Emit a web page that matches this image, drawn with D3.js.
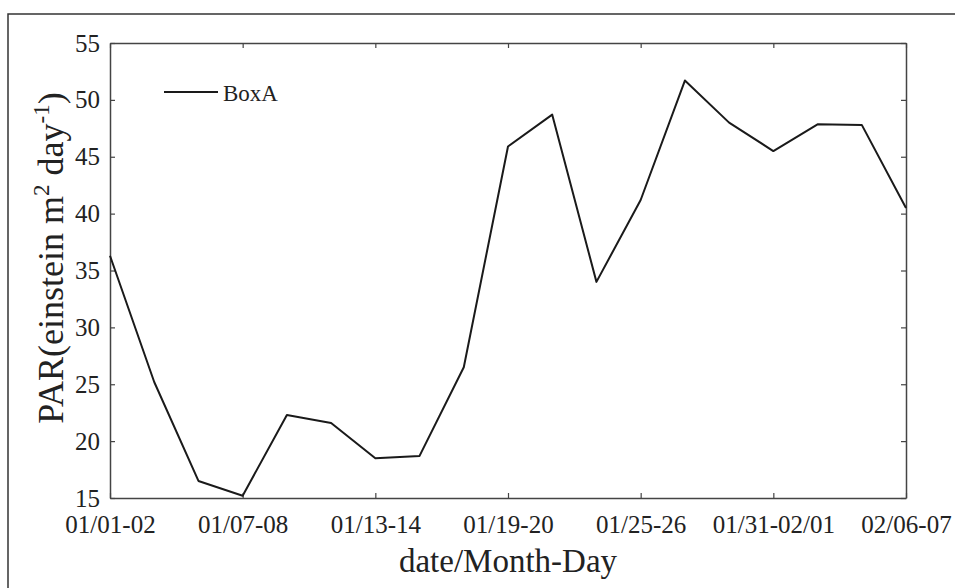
<!DOCTYPE html>
<html>
<head>
<meta charset="utf-8">
<script src="https://cdn.jsdelivr.net/npm/d3@7.9.0/dist/d3.min.js"></script>
<style>
  body { margin: 0; background: #fff; }
  svg text { font-family: "Liberation Serif", "DejaVu Serif", serif !important; fill: #222; }
</style>
</head>
<body>
<svg width="955" height="588"></svg>
<script>
// PAR values every two days, BoxA
const dates = ['01/01-02','01/03-04','01/05-06','01/07-08','01/09-10','01/11-12','01/13-14',
  '01/15-16','01/17-18','01/19-20','01/21-22','01/23-24','01/25-26','01/27-28','01/29-30',
  '01/31-02/01','02/02-03','02/04-05','02/06-07'];
const parBoxA = [36.3, 25.2, 16.5, 15.2, 22.3, 21.6, 18.5, 18.7, 26.5, 45.9, 48.7, 34.0,
  41.2, 51.7, 48.0, 45.5, 47.85, 47.8, 40.5];
const xTickLabels = ['01/01-02','01/07-08','01/13-14','01/19-20','01/25-26','01/31-02/01','02/06-07'];
const yTicks = [15, 20, 25, 30, 35, 40, 45, 50, 55];

const svg = d3.select('svg');
const plotLeft = 110, plotRight = 906, plotTop = 43, plotBottom = 498;
const serif = '"Liberation Serif", serif';

// outer frame (only top and left edges are visible)
svg.append('path')
  .attr('d', 'M8,588V14H955')
  .attr('fill', 'none').attr('stroke', '#333').attr('stroke-width', 1.5);

let x = d3.scalePoint().domain(dates).range([plotLeft, plotRight]);
let y = d3.scaleLinear().domain([15, 55]).range([plotBottom, plotTop]);

const axisColor = '#444';

function styleAxis(g) {
  g.attr('font-family', serif).style('font-family', serif);
  g.selectAll('.domain').attr('stroke', axisColor).attr('stroke-width', 1.5);
  g.selectAll('.tick line').attr('stroke', axisColor).attr('stroke-width', 1.2);
  g.selectAll('.tick text').attr('font-size', 25).attr('fill', '#222')
    .style('font-family', serif);
}

svg.append('g').attr('transform', `translate(0,${plotBottom})`)
  .call(d3.axisBottom(x).tickValues(xTickLabels).tickSize(-5).tickSizeOuter(0).tickPadding(17))
  .call(styleAxis);
svg.append('g').attr('transform', `translate(0,${plotTop})`)
  .call(d3.axisTop(x).tickValues(xTickLabels).tickSize(-5).tickSizeOuter(0).tickFormat(''))
  .call(styleAxis);
svg.append('g').attr('transform', `translate(${plotLeft},0)`)
  .call(d3.axisLeft(y).tickValues(yTicks).tickSize(-5).tickSizeOuter(0).tickPadding(10))
  .call(styleAxis);
svg.append('g').attr('transform', `translate(${plotRight},0)`)
  .call(d3.axisRight(y).tickValues(yTicks).tickSize(-5).tickSizeOuter(0).tickFormat(''))
  .call(styleAxis);

// data line
let line = d3.line().x((d, i) => x(dates[i])).y(d => y(d));
svg.append('path')
  .datum(parBoxA)
  .attr('d', line)
  .attr('fill', 'none')
  .attr('stroke', '#1a1a1a')
  .attr('stroke-width', 2)
  .attr('stroke-linejoin', 'round');

// legend
svg.append('line')
  .attr('x1', 164).attr('x2', 218).attr('y1', 92).attr('y2', 92)
  .attr('stroke', '#1a1a1a').attr('stroke-width', 2);
svg.append('text')
  .attr('x', 223).attr('y', 101)
  .attr('font-size', 23)
  .text('BoxA');

// axis titles
svg.append('text')
  .attr('x', (plotLeft + plotRight) / 2).attr('y', 572)
  .attr('text-anchor', 'middle')
  .attr('font-size', 33)
  .text('date/Month-Day');

let yTitle = svg.append('text')
  .attr('transform', `translate(63,258) rotate(-90)`)
  .attr('text-anchor', 'middle')
  .attr('font-size', 36);
yTitle.append('tspan').text('PAR(einstein m');
yTitle.append('tspan').attr('dy', -14).attr('font-size', 23).text('2');
yTitle.append('tspan').attr('dy', 14).text(' day');
yTitle.append('tspan').attr('dy', -14).attr('font-size', 23).text('-1');
yTitle.append('tspan').attr('dy', 14).text(')');
</script>
</body>
</html>
